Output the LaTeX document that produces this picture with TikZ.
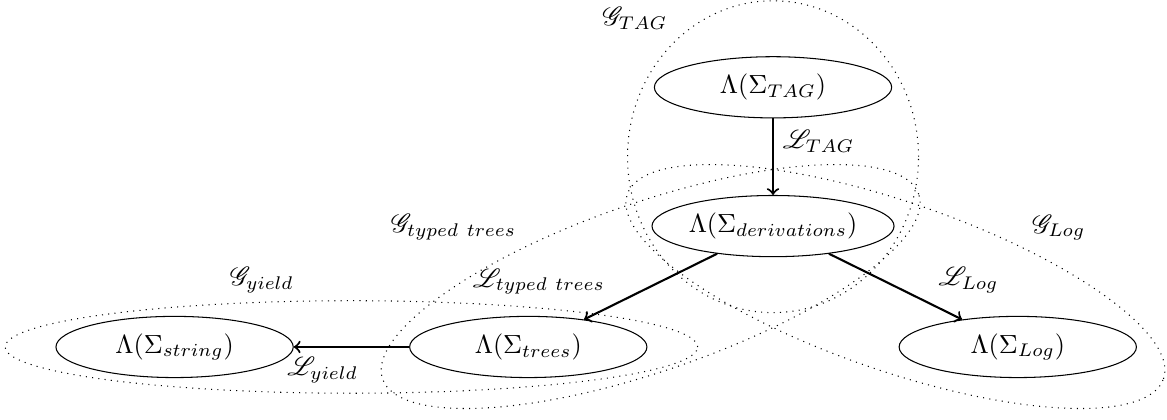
\documentclass[tikz,border=0pt]{standalone}
\usepackage{amssymb}
\usepackage{mathrsfs}
\usepackage{tikz}
\usetikzlibrary{arrows,shapes.geometric,calc}

\begin{document}
\begin{tikzpicture}[
        sig/.style={draw,ellipse,inner sep=0.5pt,minimum width=3.18cm,minimum height=0.82cm},
        lexi/.style={->,thick},
        grp/.style={dotted}
        ]
        \useasboundingbox (0,0) rectangle (15.64,5.62);

        \node[sig] (tag)    at (10.36,4.45)  {$\Lambda(\Sigma_{TAG})$};
        \node[sig] (deriv)  at (10.36,2.59)  {$\Lambda(\Sigma_{derivations})$};
        \node[sig] (trees)  at (7.08,0.97)   {$\Lambda(\Sigma_{trees})$};
        \node[sig] (string) at (2.34,0.97)   {$\Lambda(\Sigma_{string})$};
        \node[sig] (log)    at (13.64,0.97)  {$\Lambda(\Sigma_{Log})$};

        % lexicons
        \draw[lexi] (tag) -- node[right,pos=0.3] (ltag) {$\mathscr{L}_{TAG}$} (deriv);
        \draw[lexi] (deriv) -- node[above left,pos=0.77] (ltyped) {$\mathscr{L}_{typed\ trees}$} (trees);
        \draw[lexi] (deriv) -- node[above right,pos=0.75] (llog) {$\mathscr{L}_{Log}$} (log);
        \draw[lexi] (trees) -- node[below,pos=0.75] (lyield) {$\mathscr{L}_{yield}$} (string);

        % grammars
        \draw[grp] ($(tag)!0.5!(deriv)$) ellipse [x radius=1.95cm,y radius=2.09cm];
        \draw[grp] ($(string)!0.5!(trees)$) ellipse [x radius=4.64cm,y radius=0.62cm];
        \draw[grp] ($(trees)!0.5!(deriv)$) ellipse [x radius=3.8cm,y radius=1.13cm,rotate=19];
        \draw[grp] ($(deriv)!0.5!(log)$) ellipse [x radius=3.8cm,y radius=1.13cm,rotate=-19];

        \node (gtag)   at (8.51,5.37)  {$\mathscr{G}_{TAG}$};
        \node (gtyped) at (6.08,2.58)  {$\mathscr{G}_{typed\ trees}$};
        \node (glog)   at (14.19,2.57) {$\mathscr{G}_{Log}$};
        \node (gyield) at (3.51,1.86)  {$\mathscr{G}_{yield}$};
\end{tikzpicture}
\end{document}
